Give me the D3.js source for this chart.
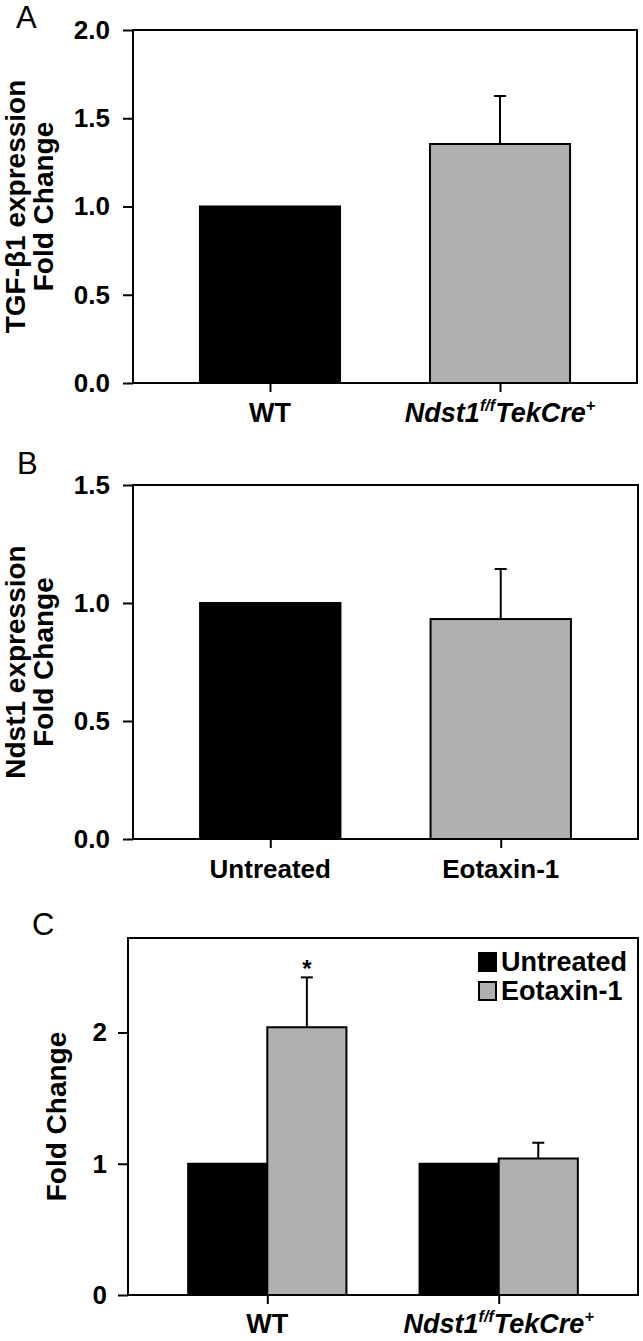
<!DOCTYPE html>
<html>
<head>
<meta charset="utf-8">
<script src="https://cdn.jsdelivr.net/npm/d3@7"></script>
<style>
  html, body { margin: 0; padding: 0; background: #fff; }
  svg { display: block; }
  text { font-family: "Liberation Sans", Arial, Helvetica, sans-serif; }
</style>
</head>
<body>
<svg id="chart" width="643" height="1341"></svg>
<script>
// ---------- DATA ----------
// Panel A
const aCategories = ["WT", "Ndst1f/fTekCre+"];
const aValues = [1.0, 1.354];
const aErrors = [0, 0.272];
const aTicks = [0, 0.5, 1.0, 1.5, 2.0];
const aYLabel = ["TGF-β1 expression", "Fold Change"];

// Panel B
const bCategories = ["Untreated", "Eotaxin-1"];
const bValues = [1.0, 0.932];
const bErrors = [0, 0.212];
const bTicks = [0, 0.5, 1.0, 1.5];
const bYLabel = ["Ndst1 expression", "Fold Change"];

// Panel C
const cGroups = ["WT", "Ndst1f/fTekCre+"];
const cSeries = ["Untreated", "Eotaxin-1"];
const cUntreated = [1.0, 1.0];
const cEotaxin = [2.04, 1.04];
const cUntreatedErr = [0, 0];
const cEotaxinErr = [0.38, 0.12];
const cSignificant = [true, false];
const cTicks = [0, 1, 2];
const cYMax = 2.72;
const cYLabel = ["Fold Change"];

// ---------- STYLE ----------
const BLACK = "#000";
const GRAY = "#b0b0b0";
const svg = d3.select("#chart");

function richLabel(sel, label, x, y, size) {
  const t = sel.append("text")
    .attr("x", x).attr("y", y)
    .attr("text-anchor", "middle")
    .attr("font-weight", "bold")
    .attr("font-size", size)
    .attr("fill", BLACK);
  if (label.startsWith("Ndst1f/f")) {
    t.attr("font-style", "italic");
    t.append("tspan").text("Ndst1");
    t.append("tspan").attr("font-size", size * 0.6).attr("dy", -size * 0.4).text("f/f");
    t.append("tspan").attr("dy", size * 0.4).text("TekCre");
    t.append("tspan").attr("font-size", size * 0.6).attr("dy", -size * 0.4).text("+");
  } else {
    t.text(label);
  }
  return t;
}

function frameAndAxes(g, x0, x1, y0, y1, y, ticks, fmt, tickPad, yLabel, labelX, letter, letterX, letterY) {
  const ax = d3.axisLeft(y).tickValues(ticks).tickFormat(fmt)
    .tickSize(10).tickSizeOuter(0).tickPadding(tickPad);
  const ga = g.append("g").attr("transform", `translate(${x0},0)`).call(ax);
  ga.select(".domain").remove();
  ga.selectAll(".tick line").attr("stroke", BLACK).attr("stroke-width", 2);
  ga.selectAll(".tick text")
    .attr("font-size", 26).attr("font-weight", "bold").attr("fill", BLACK)
    .attr("font-family", "'Liberation Sans', Arial, sans-serif");
  const cy = (y0 + y1) / 2;
  yLabel.forEach((s, i) => {
    g.append("text")
      .attr("transform", `translate(${labelX[i]},${cy}) rotate(-90)`)
      .attr("text-anchor", "middle")
      .attr("font-size", 28).attr("font-weight", "bold").attr("fill", BLACK)
      .text(s);
  });
  g.append("text").attr("x", letterX).attr("y", letterY)
    .attr("font-size", 31).attr("fill", BLACK).text(letter);
}

function drawFrame(g, x0, x1, y0, y1) {
  g.append("rect").attr("x", x0).attr("y", y0)
    .attr("width", x1 - x0).attr("height", y1 - y0)
    .attr("fill", "none").attr("stroke", BLACK).attr("stroke-width", 2);
}

function xTicks(g, xs, y1) {
  const ax = d3.axisBottom(d3.scaleIdentity()).tickValues(xs).tickFormat("")
    .tickSize(9).tickSizeOuter(0);
  const gx = g.append("g").attr("transform", `translate(0,${y1})`).call(ax);
  gx.select(".domain").remove();
  gx.selectAll(".tick line").attr("stroke", BLACK).attr("stroke-width", 2);
}

function errBar(g, cx, yTop, yBase, half) {
  g.append("line").attr("x1", cx).attr("x2", cx).attr("y1", yBase).attr("y2", yTop)
    .attr("stroke", BLACK).attr("stroke-width", 2);
  g.append("line").attr("x1", cx - half).attr("x2", cx + half).attr("y1", yTop).attr("y2", yTop)
    .attr("stroke", BLACK).attr("stroke-width", 2);
}

// ---------- SIMPLE PANEL (A, B) ----------
function simplePanel(opts) {
  const { x0, x1, y0, y1, cats, vals, errs, ticks, domainMax, yLabel, letter, letterX, letterY, labelSize } = opts;
  const g = svg.append("g");
  const x = d3.scaleBand().domain(cats).range([x0, x1]).paddingInner(0.391).paddingOuter(0.291);
  const y = d3.scaleLinear().domain([0, domainMax]).range([y1, y0]);
  const fills = [BLACK, GRAY];
  cats.forEach((c, i) => {
    const cx = x(c) + x.bandwidth() / 2;
    if (errs[i] > 0) errBar(g, cx, y(vals[i] + errs[i]), y(vals[i]), 6);
    g.append("rect").attr("x", x(c)).attr("y", y(vals[i]))
      .attr("width", x.bandwidth()).attr("height", y(0) - y(vals[i]))
      .attr("fill", fills[i]).attr("stroke", BLACK).attr("stroke-width", 2);
  });
  drawFrame(g, x0, x1, y0, y1);
  frameAndAxes(g, x0, x1, y0, y1, y, ticks, d3.format(".1f"), 13, yLabel, [25, 53], letter, letterX, letterY);
  xTicks(g, cats.map(c => x(c) + x.bandwidth() / 2), y1);
  cats.forEach(c => richLabel(g, c, x(c) + x.bandwidth() / 2, y1 + 39, labelSize));
}

simplePanel({ x0: 133, x1: 637, y0: 30, y1: 383, cats: aCategories, vals: aValues, errs: aErrors,
  ticks: aTicks, domainMax: 2.0, yLabel: aYLabel, letter: "A", letterX: 16, letterY: 28, labelSize: 27 });

simplePanel({ x0: 133, x1: 638, y0: 485, y1: 839, cats: bCategories, vals: bValues, errs: bErrors,
  ticks: bTicks, domainMax: 1.5, yLabel: bYLabel, letter: "B", letterX: 17, letterY: 474, labelSize: 26 });

// ---------- GROUPED PANEL (C) ----------
(function () {
  const x0 = 128, x1 = 638, y0 = 938, y1 = 1295;
  const g = svg.append("g");
  const xg = d3.scaleBand().domain(cGroups).range([x0, x1]).paddingInner(0.316).paddingOuter(0.26);
  const xs = d3.scaleBand().domain(cSeries).range([0, xg.bandwidth()]).padding(0);
  const y = d3.scaleLinear().domain([0, cYMax]).range([y1, y0]);
  const seriesVals = [cUntreated, cEotaxin];
  const seriesErr = [cUntreatedErr, cEotaxinErr];
  const fills = [BLACK, GRAY];
  cGroups.forEach((grp, gi) => {
    cSeries.forEach((s, si) => {
      const v = seriesVals[si][gi];
      const bx = xg(grp) + xs(s);
      const cx = bx + xs.bandwidth() / 2;
      const e = seriesErr[si][gi];
      if (e > 0) errBar(g, cx, y(v + e), y(v), 6);
      g.append("rect").attr("x", bx).attr("y", y(v))
        .attr("width", xs.bandwidth()).attr("height", y(0) - y(v))
        .attr("fill", fills[si]).attr("stroke", BLACK).attr("stroke-width", 2);
      if (si === 1 && cSignificant[gi]) {
        g.append("text").attr("x", cx).attr("y", y(v + e))
          .attr("text-anchor", "middle").attr("font-size", 24).attr("font-weight", "bold")
          .attr("fill", BLACK).text("*");
      }
    });
  });
  drawFrame(g, x0, x1, y0, y1);
  frameAndAxes(g, x0, x1, y0, y1, y, cTicks, d3.format("d"), 11, cYLabel, [66], "C", 32, 935);
  xTicks(g, cGroups.map(grp => xg(grp) + xg.bandwidth() / 2), y1);
  cGroups.forEach(grp => richLabel(g, grp, xg(grp) + xg.bandwidth() / 2, y1 + 38, 27));

  const lg = g.append("g");
  cSeries.forEach((s, i) => {
    const ly = 953 + i * 29;
    lg.append("rect").attr("x", 479).attr("y", ly).attr("width", 17).attr("height", 18)
      .attr("fill", fills[i]).attr("stroke", BLACK).attr("stroke-width", 2);
    lg.append("text").attr("x", 501).attr("y", ly + 18)
      .attr("font-size", 27).attr("font-weight", "bold").attr("fill", BLACK).text(s);
  });
})();
</script>
</body>
</html>
